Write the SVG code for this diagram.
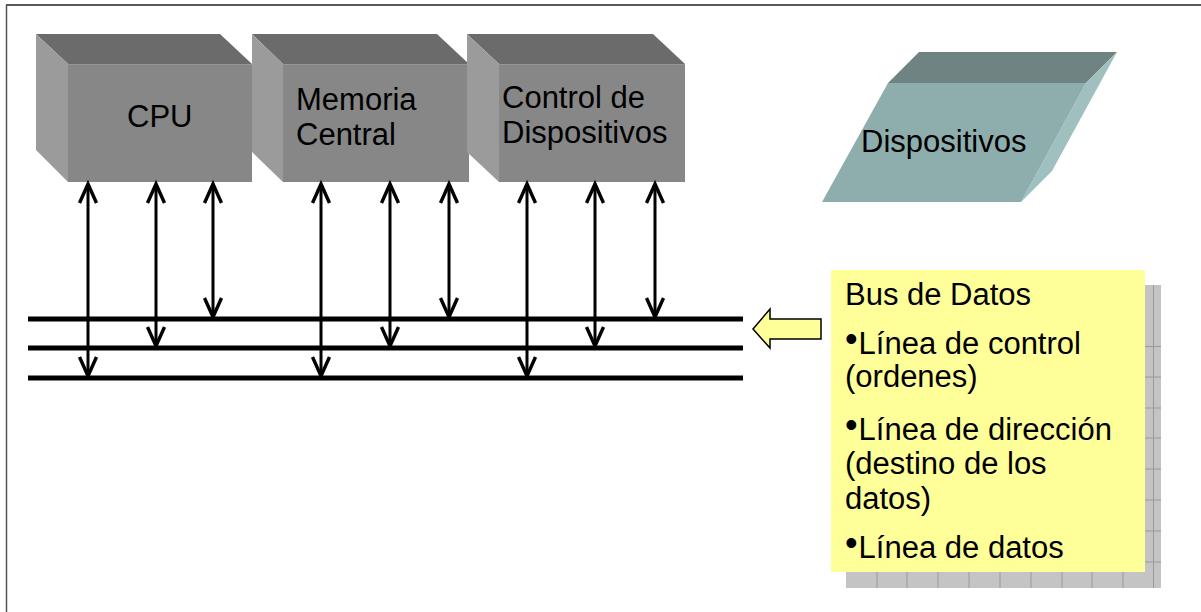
<svg xmlns="http://www.w3.org/2000/svg" width="1201" height="612" viewBox="0 0 1201 612">
  <style>
    .lbl { font-family: "Liberation Sans", Arial, sans-serif; font-size: 31px; fill: #000; }
    .dot { font-size: 36px; }
    .front { fill: #878787; }
    .top { fill: #6b6b6b; }
    .side { fill: #9b9b9b; }
    .bus { stroke: #000; stroke-width: 5; }
    .link { stroke: #000; stroke-width: 3; fill: none; marker-start: url(#head); marker-end: url(#head); }
    .grid { stroke: #9a9a9a; stroke-width: 1; }
  </style>
  <defs>
    <marker id="head" markerUnits="userSpaceOnUse" viewBox="-22 -12 26 24" markerWidth="26" markerHeight="24" refX="0" refY="0" orient="auto-start-reverse" overflow="visible">
      <path d="M-19,-8.5 L0,0 L-19,8.5" fill="none" stroke="#000" stroke-width="3.4"/>
    </marker>
  </defs>

  <rect width="1201" height="612" fill="#fff"/>
  <!-- frame -->
  <line x1="6" y1="5" x2="1201" y2="5" stroke="#222" stroke-width="1.5"/>
  <line x1="6.5" y1="5" x2="6.5" y2="612" stroke="#555" stroke-width="1.5"/>

  <!-- CPU block -->
  <g id="cpu">
    <polygon class="top" points="36,34 220,34 252,64 68,64"/>
    <polygon class="side" points="36,34 68,64 68,182 36,150"/>
    <rect class="front" x="68" y="64" width="184" height="118"/>
    <line x1="68" y1="64.5" x2="252" y2="64.5" stroke="#959595" stroke-width="1"/>
    <text class="lbl" x="127" y="127">CPU</text>
  </g>

  <!-- main memory block -->
  <g id="memoria">
    <polygon class="top" points="252,34 437,34 469,64 283,64"/>
    <polygon class="side" points="252,34 283,64 283,182 252,152"/>
    <rect class="front" x="283" y="64" width="186" height="118"/>
    <line x1="283" y1="64.5" x2="469" y2="64.5" stroke="#959595" stroke-width="1"/>
    <text class="lbl" x="296" y="110">Memoria</text>
    <text class="lbl" x="296" y="145">Central</text>
  </g>

  <!-- device controller block -->
  <g id="control">
    <polygon class="top" points="467,34 653,34 685,64 499,64"/>
    <polygon class="side" points="467,34 499,64 499,182 467,152"/>
    <rect class="front" x="499" y="64" width="186" height="118"/>
    <line x1="499" y1="64.5" x2="685" y2="64.5" stroke="#959595" stroke-width="1"/>
    <text class="lbl" x="502" y="108">Control de</text>
    <text class="lbl" x="502" y="143">Dispositivos</text>
  </g>

  <!-- devices -->
  <g id="dispositivos">
    <polygon points="919,52 1117,52 1086,83 888,83" fill="#6f8383"/>
    <polygon points="1086,83 1117,52 1052,171 1021,202" fill="#a0c0c0"/>
    <polygon points="888,83 1086,83 1021,202 822,202" fill="#8eaeae"/>
    <text class="lbl" x="861" y="152">Dispositivos</text>
  </g>

  <!-- bus lines and links -->
  <g id="connectors">
    <line class="bus" x1="28" y1="319" x2="743" y2="319"/>
    <line class="bus" x1="28" y1="348" x2="743" y2="348"/>
    <line class="bus" x1="28" y1="378" x2="743" y2="378"/>

    <line class="link" x1="88" y1="184" x2="88" y2="376"/>
    <line class="link" x1="156" y1="184" x2="156" y2="346"/>
    <line class="link" x1="213" y1="184" x2="213" y2="317"/>

    <line class="link" x1="321" y1="184" x2="321" y2="376"/>
    <line class="link" x1="390" y1="184" x2="390" y2="346"/>
    <line class="link" x1="449" y1="184" x2="449" y2="317"/>

    <line class="link" x1="527" y1="184" x2="527" y2="376"/>
    <line class="link" x1="595" y1="184" x2="595" y2="346"/>
    <line class="link" x1="655" y1="184" x2="655" y2="317"/>

    <polygon points="753,329 770,309 770,319 821,319 821,339 770,339 770,348" fill="#ffff99" stroke="#000" stroke-width="1.5" stroke-linejoin="miter"/>
  </g>

  <!-- bus legend note -->
  <g id="nota">
    <rect x="846" y="285" width="315" height="303" fill="#c4c4c4"/>
    <g class="grid">
      <line x1="877" y1="285" x2="877" y2="588"/>
      <line x1="907" y1="285" x2="907" y2="588"/>
      <line x1="938" y1="285" x2="938" y2="588"/>
      <line x1="969" y1="285" x2="969" y2="588"/>
      <line x1="1000" y1="285" x2="1000" y2="588"/>
      <line x1="1031" y1="285" x2="1031" y2="588"/>
      <line x1="1062" y1="285" x2="1062" y2="588"/>
      <line x1="1092" y1="285" x2="1092" y2="588"/>
      <line x1="1123" y1="285" x2="1123" y2="588"/>
      <line x1="1153.5" y1="285" x2="1153.5" y2="588"/>
      <line x1="846" y1="346.5" x2="1161" y2="346.5"/>
      <line x1="846" y1="377" x2="1161" y2="377"/>
      <line x1="846" y1="408" x2="1161" y2="408"/>
      <line x1="846" y1="438" x2="1161" y2="438"/>
      <line x1="846" y1="469" x2="1161" y2="469"/>
      <line x1="846" y1="500" x2="1161" y2="500"/>
      <line x1="846" y1="531" x2="1161" y2="531"/>
      <line x1="846" y1="562" x2="1161" y2="562"/>
    </g>
    <rect x="831" y="270" width="314" height="302" fill="#ffff99"/>
    <text class="lbl" x="845" y="305">Bus de Datos</text>
    <text class="lbl" x="845" y="354"><tspan class="dot" dy="-3">•</tspan><tspan dx="1" dy="3">Línea de control</tspan></text>
    <text class="lbl" x="845" y="387">(ordenes)</text>
    <text class="lbl" x="845" y="440"><tspan class="dot" dy="-3">•</tspan><tspan dx="1" dy="3">Línea de dirección</tspan></text>
    <text class="lbl" x="845" y="474">(destino de los</text>
    <text class="lbl" x="845" y="509">datos)</text>
    <text class="lbl" x="845" y="558"><tspan class="dot" dy="-3">•</tspan><tspan dx="1" dy="3">Línea de datos</tspan></text>
  </g>
</svg>
